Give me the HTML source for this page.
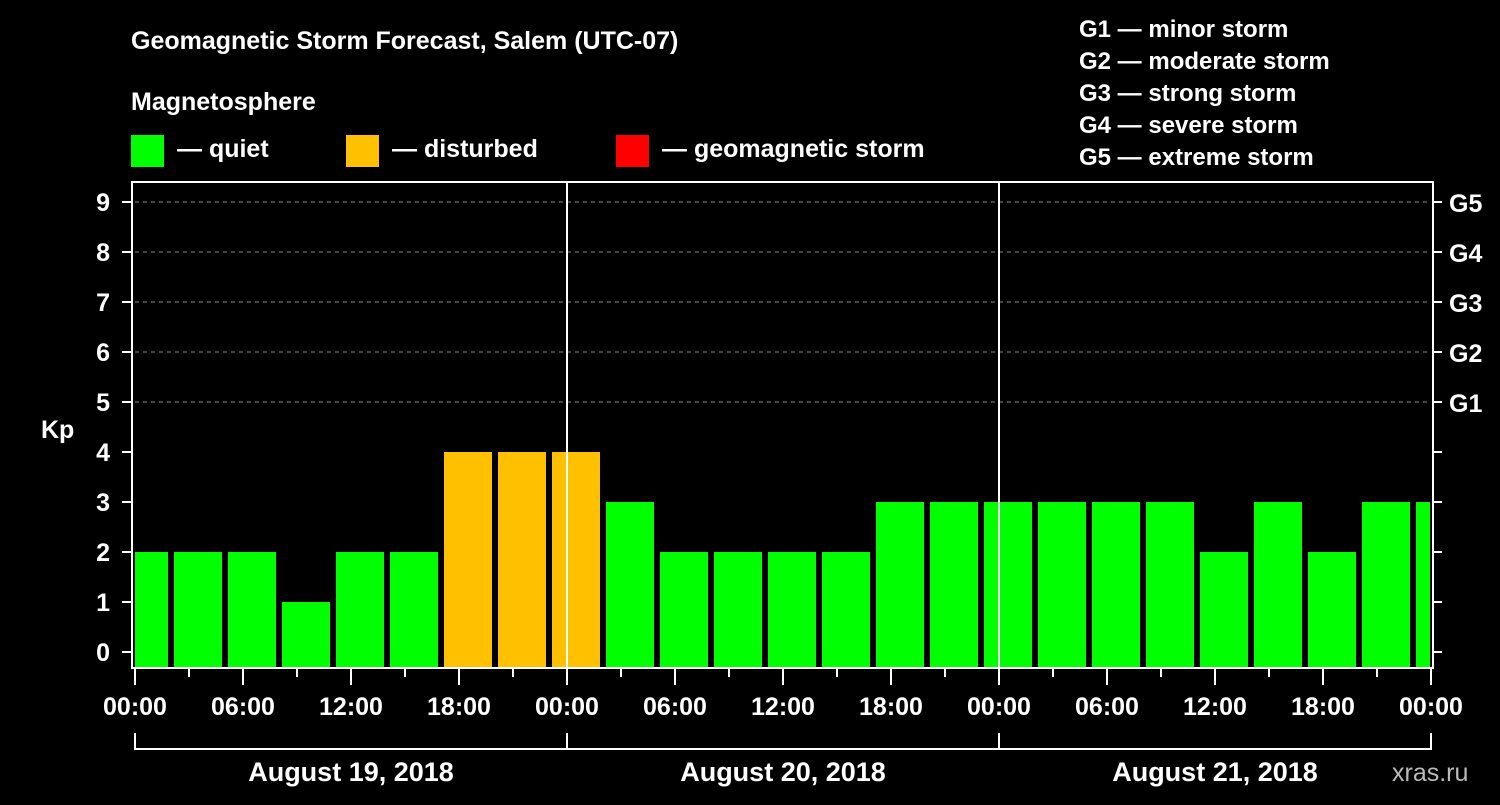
<!DOCTYPE html>
<html><head><meta charset="utf-8"><style>
body{margin:0;background:#000;width:1500px;height:800px;overflow:hidden}
svg text{font-family:"Liberation Sans",Arial,sans-serif;font-weight:bold;fill:#fff}
</style></head><body>
<svg id="c" width="1500" height="800" xmlns="http://www.w3.org/2000/svg">
<text x="131" y="49" font-size="25">Geomagnetic Storm Forecast, Salem (UTC-07)</text>
<text x="131" y="110" font-size="25">Magnetosphere</text>
<g>
<rect x="131" y="135" width="33" height="32" fill="#00ff00"/><text x="177" y="157" font-size="25">— quiet</text>
<rect x="346" y="135" width="33" height="32" fill="#ffc000"/><text x="392" y="157" font-size="25">— disturbed</text>
<rect x="616" y="135" width="33" height="32" fill="#ff0000"/><text x="662" y="157" font-size="25">— geomagnetic storm</text>
</g>
<g font-size="24">
<text x="1079" y="37">G1 — minor storm</text>
<text x="1079" y="69">G2 — moderate storm</text>
<text x="1079" y="101">G3 — strong storm</text>
<text x="1079" y="133">G4 — severe storm</text>
<text x="1079" y="165">G5 — extreme storm</text>
</g>
<text x="41" y="438" font-size="25">Kp</text>
<defs><clipPath id="pc"><rect x="135" y="182" width="1295" height="486"/></clipPath></defs>
<g id="grid"></g><g id="bars" clip-path="url(#pc)"></g><g id="axes"></g>
<text x="1392" y="781" font-size="25" fill="#bbb" style="fill:#bbb;font-weight:normal">xras.ru</text>
</svg>
<script>
const kpValues=[2,2,2,1,2,2,4,4,4,3,2,2,2,2,3,3,3,3,3,3,2,3,2,3,3];
const yTicks=[0,1,2,3,4,5,6,7,8,9];
const gLabels=["G1","G2","G3","G4","G5"];
const xTickLabels=["00:00","06:00","12:00","18:00","00:00","06:00","12:00","18:00","00:00","06:00","12:00","18:00","00:00"];
const dateLabels=["August 19, 2018","August 20, 2018","August 21, 2018"];
const NS="http://www.w3.org/2000/svg";
const x0=135,pxh=18,yb=652,pku=50,bottom=668;
const xs=h=>x0+h*pxh, ys=k=>yb-k*pku;
function mk(t,a,p,txt){const e=document.createElementNS(NS,t);for(const k in a)e.setAttribute(k,a[k]);if(txt!=null)e.textContent=txt;p.appendChild(e);return e;}
const grid=document.getElementById('grid'),bars=document.getElementById('bars'),axes=document.getElementById('axes');
for(let k=5;k<=9;k++){const l=mk('line',{x1:135,x2:1430,y1:ys(k),y2:ys(k),stroke:'#888','stroke-dasharray':'4,4'},grid);

}
kpValues.forEach((v,i)=>{const c=xs(0.5+3*i);const col=v>=5?'#ff0000':v>=4?'#ffc000':'#00ff00';
const r=mk('rect',{x:c-24,y:ys(v),width:48,height:bottom-ys(v),fill:col},bars);

});
mk('rect',{x:132,y:182,width:1301,height:486,fill:'none',stroke:'#fff','stroke-width':2},axes);
[1,2].forEach(d=>{mk('line',{x1:xs(24*d),x2:xs(24*d),y1:182,y2:668,stroke:'#fff','stroke-width':2},axes);});
yTicks.forEach(k=>{mk('line',{x1:122,x2:132,y1:ys(k),y2:ys(k),stroke:'#fff','stroke-width':2},axes);
mk('line',{x1:1433,x2:1442,y1:ys(k),y2:ys(k),stroke:'#fff','stroke-width':2},axes);
const t=mk('text',{x:110,y:ys(k)+9,'font-size':25,'text-anchor':'end'},axes,k);

});
gLabels.forEach((g,i)=>{const t=mk('text',{x:1449,y:ys(5+i)+10,'font-size':25},axes,g);

});
for(let h=0;h<=72;h+=3){const maj=h%6===0;mk('line',{x1:xs(h),x2:xs(h),y1:668,y2:maj?685:677,stroke:'#fff','stroke-width':2},axes);}
xTickLabels.forEach((s,i)=>{const t=mk('text',{x:xs(6*i),y:715,'font-size':25,'text-anchor':'middle'},axes,s);

});
mk('line',{x1:135,x2:1430,y1:749,y2:749,stroke:'#fff','stroke-width':2},axes);
for(let d=0;d<=3;d++)mk('line',{x1:xs(24*d),x2:xs(24*d),y1:733,y2:750,stroke:'#fff','stroke-width':2},axes);
dateLabels.forEach((s,i)=>{const t=mk('text',{x:xs(24*i+12),y:781,'font-size':27,'text-anchor':'middle'},axes,s);

});
</script>
</body></html>
